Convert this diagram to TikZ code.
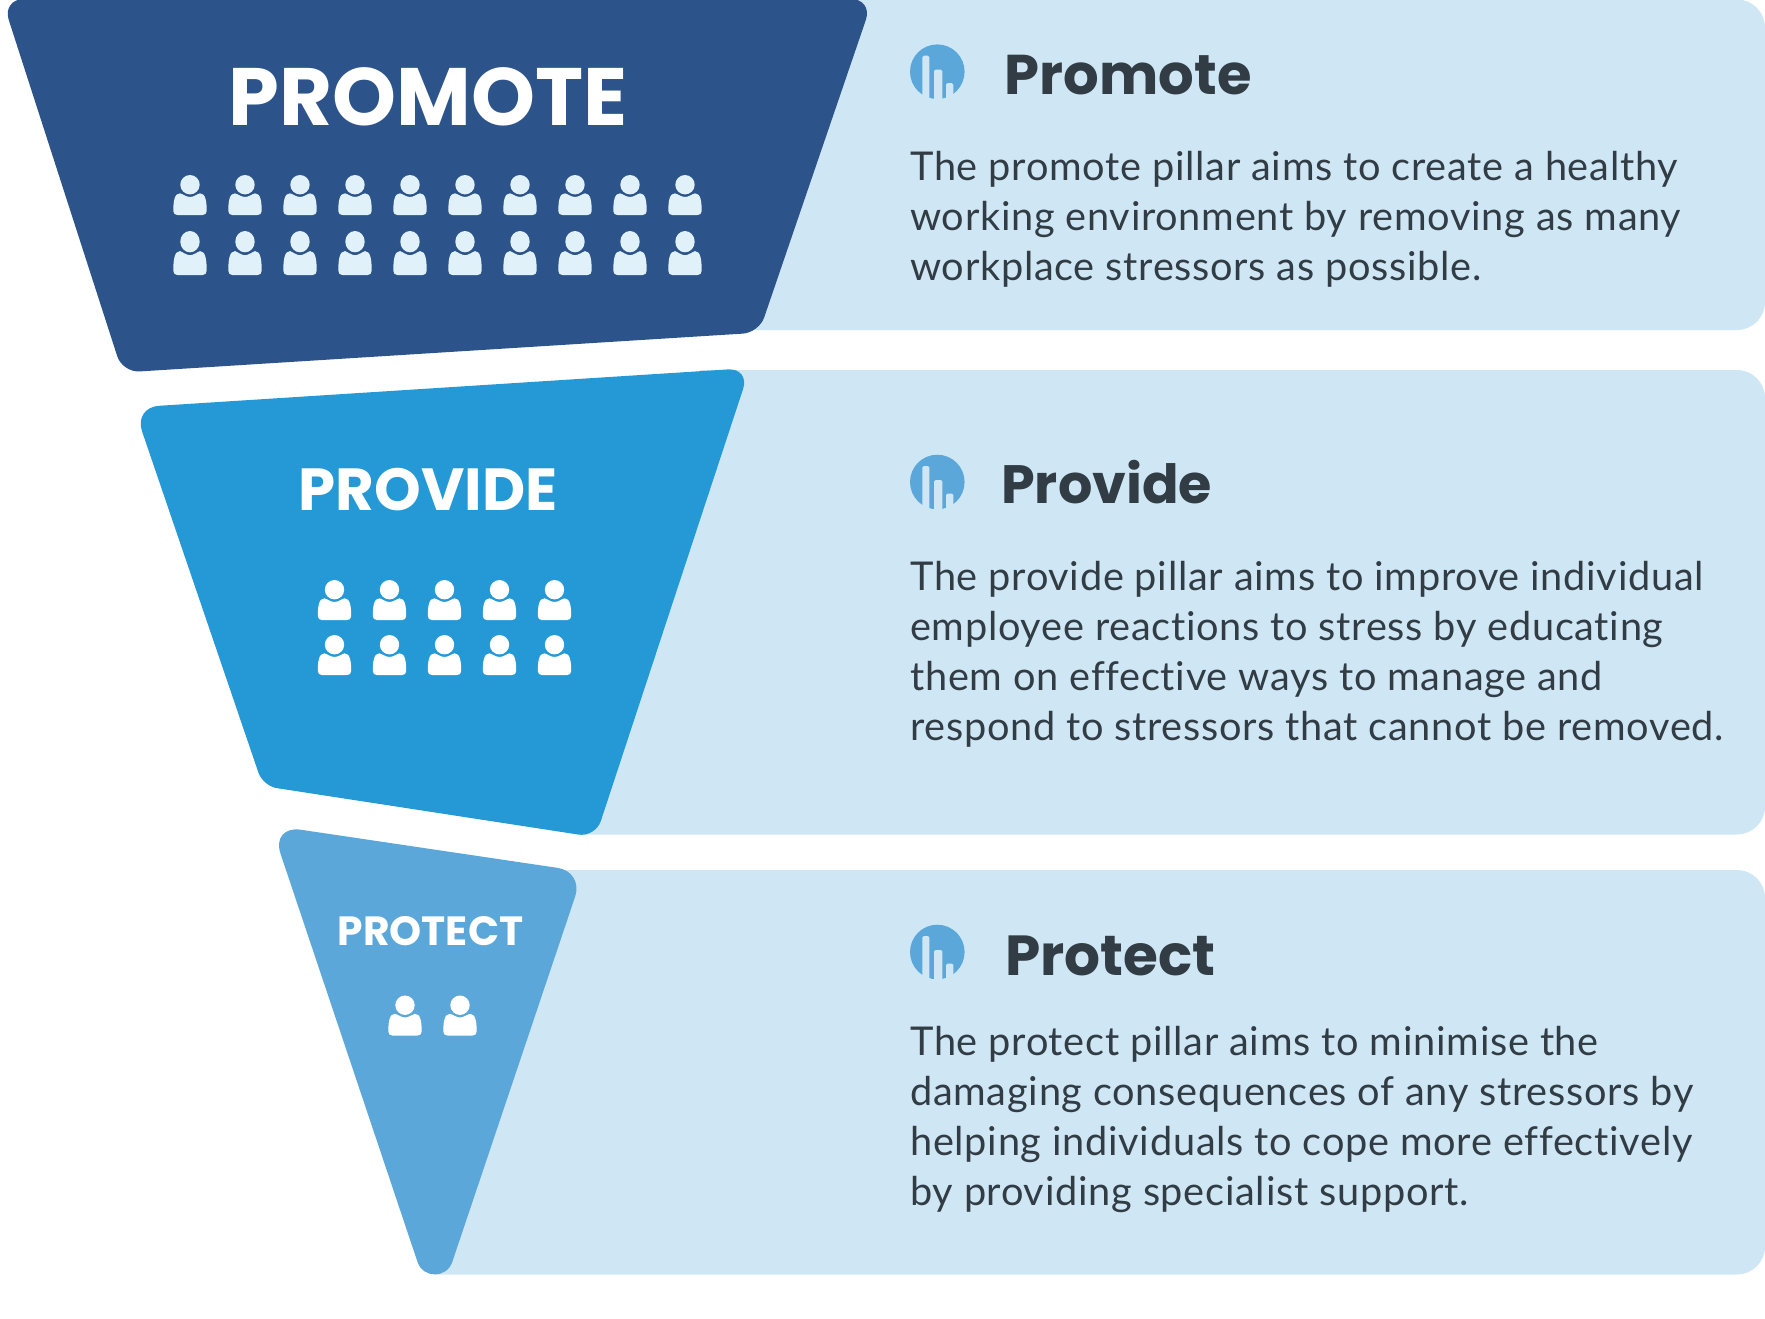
\documentclass[tikz,border=0pt]{standalone}
\usepackage{fontspec}
\setmainfont[Ligatures=NoCommon,LetterSpace=1.8]{Lato}
\newfontfamily\popf{Poppins}
\definecolor{bandc}{HTML}{CFE7F5}
\definecolor{navyc}{HTML}{2C548A}
\definecolor{bluec}{HTML}{2499D6}
\definecolor{skyc}{HTML}{5BA7D9}
\definecolor{inkc}{HTML}{323C44}
\definecolor{palec}{HTML}{E0F1FA}
\tikzset{
  bandbox/.style={fill=bandc,draw=none},
  pillarlabel/.style={anchor=base,inner sep=0pt,text=white},
  headlabel/.style={anchor=base west,inner sep=0pt,text=inkc},
  bodylabel/.style={anchor=base west,inner sep=0pt,text=inkc,align=left,font=\fontsize{39.7}{50}\selectfont},
}
\newcommand{\personicon}[4]{%
  \begin{scope}[shift={(#1,#2)},yscale=#3]
    \fill[#4] (0,-30.3) ellipse [x radius=9.7,y radius=9.7];
    \fill[#4] (-12.7,0) .. controls (-15,0) and (-16.7,-1.5) .. (-16.7,-4)
      .. controls (-16.7,-14) and (-15.5,-21.7) .. (-10,-21.7)
      .. controls (-7.5,-21) and (-3.5,-18) .. (0,-18)
      .. controls (3.5,-18) and (7.5,-21) .. (10,-21.7)
      .. controls (15.5,-21.7) and (16.7,-14) .. (16.7,-4)
      .. controls (16.7,-1.5) and (15,0) .. (12.7,0) -- cycle;
  \end{scope}}
\newcommand{\charticon}[2]{%
  \begin{scope}[shift={(#1,#2)}]
    \fill[skyc] (0,0) circle [radius=27.3];
    \fill[bandc,rounded corners=1.5pt] (-15,29) -- (-15,-16) -- (-8,-16) -- (-8,29) -- cycle;
    \fill[bandc,rounded corners=1.5pt] (-3.3,29) -- (-3.3,-2) -- (5,-2) -- (5,29) -- cycle;
    \fill[bandc,rounded corners=1.5pt] (8.7,29) -- (8.7,11.5) -- (16,11.5) -- (16,29) -- cycle;
  \end{scope}}
\begin{document}
\begin{tikzpicture}[x=1pt,y=-1pt]
\useasboundingbox (0,0) rectangle (1765,1318);
\clip (0,0) rectangle (1765,1318);
% bands
\fill[bandbox] (750,-0.5) [rounded corners=28pt] -- (1765,-0.5) -- (1765,330) [sharp corners] -- (750,330) -- cycle;
\fill[bandbox] (700,370) [rounded corners=28pt] -- (1765,370) -- (1765,834.5) [sharp corners] -- (585,834.5) -- cycle;
\fill[bandbox] (435,870) [rounded corners=28pt] -- (1765,870) -- (1765,1274.5) [sharp corners] -- (435,1274.5) -- cycle;
% funnels
\fill[navyc] (2,-1) [rounded corners=22pt] -- (873,-1) [rounded corners=16pt] -- (759,332.6) [rounded corners=17pt] -- (122.5,372.5) [rounded corners=22pt] -- cycle;
\fill[bluec] (133.9,407.4) [rounded corners=22pt] -- (750,368) [rounded corners=17pt] -- (595.5,837.2) [rounded corners=14pt] -- (263,786) [rounded corners=25pt] -- cycle;
\fill[skyc] (452.3,1261.9) .. controls (446.6,1278.6) and (423.2,1278.6) .. (417.5,1261.9) [rounded corners=30pt] -- (271,825.3) [rounded corners=26pt] -- (583.5,871.7) [sharp corners] -- cycle;
% pillar titles
\node[pillarlabel,font=\popf\bfseries\fontsize{81.4}{90}\selectfont] (t1) at (428,125) {PROMOTE};
\node[pillarlabel,font=\popf\bfseries\fontsize{59.4}{70}\selectfont] (t2) at (428,510) {PROVIDE};
\node[pillarlabel,font=\popf\bfseries\fontsize{40.8}{50}\selectfont] (t3) at (430.5,945.5) {PROTECT};
% people
\foreach \i in {0,...,9} {
  \personicon{190+55*\i}{215}{1}{palec}
  \personicon{190+55*\i}{275}{1.1}{palec}
}
\foreach \i in {0,...,4} {
  \personicon{334.5+55*\i}{620}{1}{white}
  \personicon{334.5+55*\i}{675}{1}{white}
}
\foreach \i in {0,1} {
  \personicon{405+55*\i}{1035.5}{1}{white}
}
% icons
\charticon{937.3}{71.7}
\charticon{937.3}{482}
\charticon{937.3}{952}
% headings
\node[headlabel,font=\popf\bfseries\fontsize{56}{60}\selectfont] (h1) at (1004.5,94.3) {Promote};
\node[headlabel,font=\popf\bfseries\fontsize{54}{60}\selectfont] (h2) at (1001,503) {Provide};
\node[headlabel,font=\popf\bfseries\fontsize{56.5}{60}\selectfont] (h3) at (1005,975) {Protect};
% body text
\node[bodylabel] (b1) at (910,280.3) {The promote pillar aims to create a healthy\\working environment by removing as many\\workplace stressors as possible.};
\node[bodylabel] (b2) at (910,740.5) {The provide pillar aims to improve individual\\employee reactions to stress by educating\\them on effective ways to manage and\\respond to stressors that cannot be removed.};
\node[bodylabel] (b3) at (910,1205) {The protect pillar aims to minimise the\\damaging consequences of any stressors by\\helping individuals to cope more effectively\\by providing specialist support.};
\end{tikzpicture}
\end{document}
